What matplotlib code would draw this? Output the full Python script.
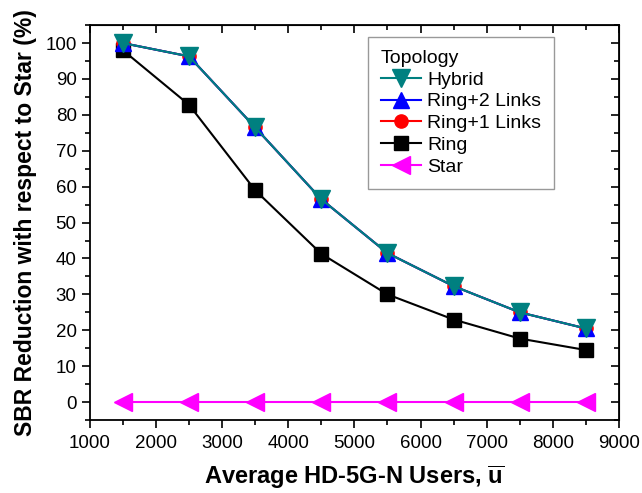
import matplotlib
matplotlib.use("Agg")
import matplotlib.pyplot as plt
from matplotlib.ticker import MultipleLocator

plt.rcParams['font.family'] = ['Liberation Sans', 'DejaVu Sans']
plt.rcParams['mathtext.fontset'] = 'custom'
plt.rcParams['mathtext.bf'] = 'Liberation Sans:bold'
plt.rcParams['mathtext.rm'] = 'Liberation Sans'

users = [1500, 2500, 3500, 4500, 5500, 6500, 7500, 8500]
hybrid = [100, 96.3, 76.5, 56.5, 41.5, 32.3, 25.0, 20.5]
ring2 = [100, 96.3, 76.5, 56.5, 41.5, 32.3, 25.0, 20.5]
ring1 = [100, 96.3, 76.5, 56.5, 41.5, 32.3, 25.0, 20.5]
ring = [98, 82.8, 59.0, 41.3, 30.0, 23.0, 17.7, 14.5]
star = [0, 0, 0, 0, 0, 0, 0, 0]


def plot_sbr():
    fig = plt.figure(figsize=(6.42, 4.93), dpi=100)
    ax = fig.add_axes([0.140, 0.148, 0.824, 0.801])

    ax.plot(users, star, color='#FF00FF', marker='<', ms=12.5, lw=1.5, label='Star', zorder=3)
    ax.plot(users, ring, color='black', marker='s', ms=10, lw=1.5, label='Ring', zorder=4)
    ax.plot(users, ring1, color='red', marker='o', ms=9.5, lw=1.5, label='Ring+1 Links', zorder=5)
    ax.plot(users, ring2, color='blue', marker='^', ms=12, lw=1.5, label='Ring+2 Links', zorder=6)
    ax.plot(users, hybrid, color='#008080', marker='v', ms=12.5, lw=1.5, label='Hybrid', zorder=7)

    ax.set_xlim(1000, 9000)
    ax.set_ylim(-5, 105)
    ax.xaxis.set_major_locator(MultipleLocator(1000))
    ax.xaxis.set_minor_locator(MultipleLocator(500))
    ax.yaxis.set_major_locator(MultipleLocator(10))
    ax.yaxis.set_minor_locator(MultipleLocator(5))
    ax.tick_params(which='major', direction='out', length=6, width=1.2, labelsize=13.5)
    ax.tick_params(axis='x', which='major', pad=5)
    ax.tick_params(which='minor', direction='out', length=3.5, width=1.2)
    for s in ax.spines.values():
        s.set_linewidth(1.3)

    top = ax.secondary_xaxis('top')
    top.xaxis.set_major_locator(MultipleLocator(1000))
    top.xaxis.set_minor_locator(MultipleLocator(500))
    top.tick_params(which='major', direction='in', length=6, width=1.2, labeltop=False)
    top.tick_params(which='minor', direction='in', length=3.5, width=1.2)
    right = ax.secondary_yaxis('right')
    right.yaxis.set_major_locator(MultipleLocator(10))
    right.yaxis.set_minor_locator(MultipleLocator(5))
    right.tick_params(which='major', direction='in', length=6, width=1.2, labelright=False)
    right.tick_params(which='minor', direction='in', length=3.5, width=1.2)

    ax.set_xlabel(r'Average HD-5G-N Users, $\mathbf{\overline{u}}$', fontsize=17,
                  fontweight='bold', labelpad=8)
    ax.set_ylabel('SBR Reduction with respect to Star (%)', fontsize=16.5,
                  fontweight='bold', labelpad=6)

    handles, labels = ax.get_legend_handles_labels()
    leg = ax.legend(handles[::-1], labels[::-1], title='Topology', loc='upper right',
                    bbox_to_anchor=(0.877, 0.970), fontsize=14, title_fontsize=14,
                    fancybox=False, edgecolor='#808080', handlelength=2.1,
                    handletextpad=0.3, labelspacing=0.22, borderpad=0.65,
                    borderaxespad=0)
    leg._legend_box.align = 'left'
    leg.get_frame().set_linewidth(1.0)

    plt.savefig('out.png', dpi=100)


if __name__ == "__main__":
    plot_sbr()
